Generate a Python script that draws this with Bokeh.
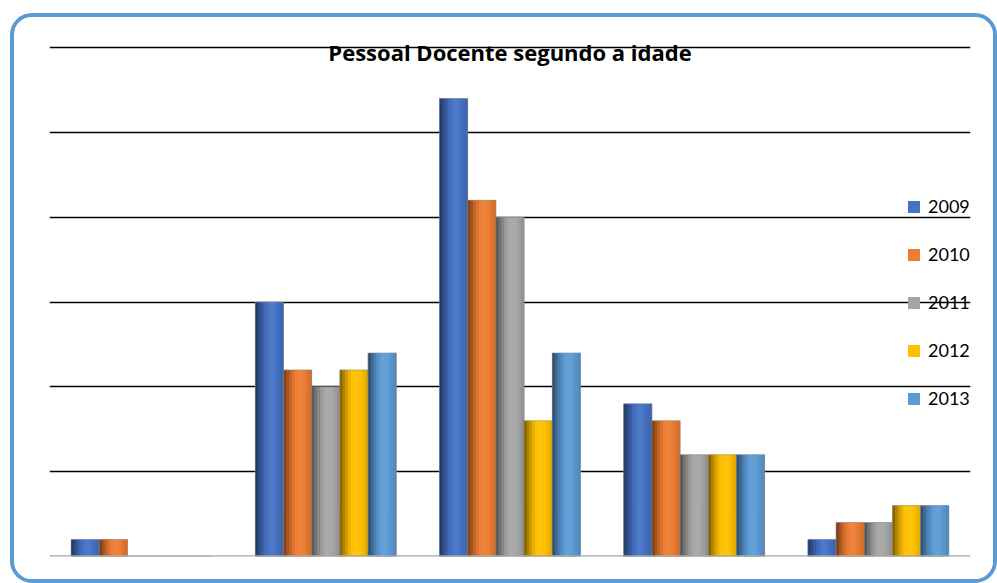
import math
from bokeh.plotting import figure
from bokeh.models import (FactorRange, Range1d, ColumnDataSource, FixedTicker, Label,
                          Legend, LegendItem, Span)
from bokeh.transform import dodge
from bokeh.embed import file_html
from bokeh.resources import INLINE

# ---- data ----
categories = ["< 30", "30-39", "40-49", "50-59", ">= 60"]
years = ["2009", "2010", "2011", "2012", "2013"]
v2009 = [1, 15, 27, 9, 1]
v2010 = [1, 11, 21, 8, 2]
v2011 = [0, 10, 20, 6, 2]
v2012 = [0, 11, 8, 6, 3]
v2013 = [0, 12, 12, 6, 3]
series = [v2009, v2010, v2011, v2012, v2013]
base_colors = ["#4472C4", "#ED7D31", "#A5A5A5", "#FFC000", "#5B9BD5"]
title_text = "Pessoal Docente segundo a idade"
grid_ticks = [5, 10, 15, 20, 25, 30]

src = ColumnDataSource(dict(cat=categories, **{y: s for y, s in zip(years, series)}))

p = figure(x_range=FactorRange(*categories), y_range=Range1d(0, 30.3),
           width=987, height=570, output_backend="svg", toolbar_location=None,
           min_border_left=35, min_border_right=31, min_border_top=25, min_border_bottom=31)
p.styles = {"border": "4px solid #5B9BD5", "border-radius": "22px",
            "margin-left": "10px", "margin-top": "13px", "background": "white",
            "overflow": "hidden"}
p.x_range.range_padding = 0
p.xaxis.visible = False
p.yaxis.visible = False
p.outline_line_color = None
p.xgrid.visible = False
p.ygrid.ticker = FixedTicker(ticks=grid_ticks)
p.ygrid.grid_line_color = "black"
p.ygrid.grid_line_width = 1.6

p.add_layout(Span(location=0, dimension="width", line_color="#a6a6a6", line_width=2.5))


def hex_to_rgb(h):
    h = h.lstrip("#")
    return [int(h[i:i + 2], 16) for i in (0, 2, 4)]


def shade(h, f):
    r = hex_to_rgb(h)
    if f <= 1:
        c = [int(v * f) for v in r]
    else:
        a = f - 1
        c = [int(v + (255 - v) * a) for v in r]
    return "#%02x%02x%02x" % tuple(max(0, min(255, v)) for v in c)


bw = 0.153
N = 10
items = []
for i, (yr, col) in enumerate(zip(years, base_colors)):
    off = (i - 2) * bw
    r = p.vbar(x=dodge("cat", off, range=p.x_range), top=yr, width=bw, source=src,
               fill_color=col, line_color=None)
    items.append(LegendItem(label=yr, renderers=[r]))
    for k in range(N):
        t = (k + 0.5) / N
        if t < 0.62:
            f = 0.45 + 0.62 * math.sin(math.pi / 2 * (t / 0.62))
        else:
            f = 1.07 - 0.2 * (t - 0.62) / 0.38
        so = off - bw / 2 + (k + 0.5) * bw / N
        p.vbar(x=dodge("cat", so, range=p.x_range), top=yr, width=bw / N + 0.002, source=src,
               fill_color=shade(col, f), line_color=None)
    p.vbar(x=dodge("cat", off, range=p.x_range), top=yr, width=bw, source=src,
           fill_color=None, line_color="#8c8c8c", line_alpha=0.5, line_width=1)

p.add_layout(Label(x=2.5, y=29.74, text=title_text, text_align="center",
                   text_baseline="middle",
                   text_font="Open Sans", text_font_style="bold", text_font_size="22px",
                   text_color="black"))

legend = Legend(items=items, location=(857, 146), padding=0, margin=0, spacing=24,
                glyph_width=15, glyph_height=15, label_height=24, label_standoff=7,
                label_text_font="Lato", label_text_font_size="18px",
                label_text_color="black",
                background_fill_alpha=0, border_line_alpha=0)
p.add_layout(legend, "center")

open("out.html", "w").write(file_html(p, INLINE))
